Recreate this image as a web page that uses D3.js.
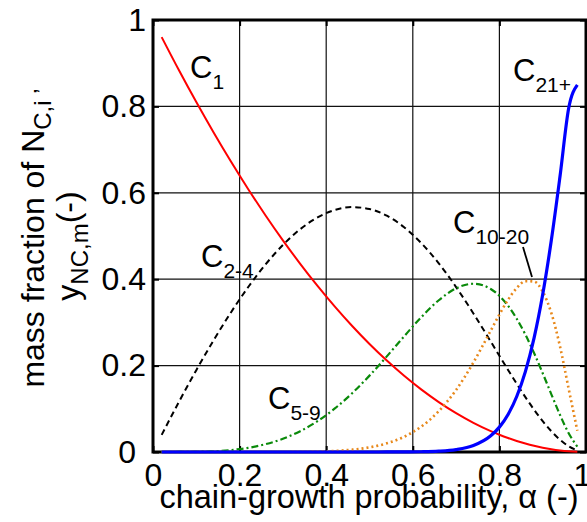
<!DOCTYPE html>
<html>
<head>
<meta charset="utf-8">
<script src="https://cdn.jsdelivr.net/npm/d3@7"></script>
<style>
  html, body { margin: 0; padding: 0; background: #fff; }
  svg { display: block; font-family: "Liberation Sans", Arial, sans-serif; }
</style>
</head>
<body>
<svg id="chart" width="587" height="522"></svg>
<script>
// chain-growth probability (x)
const alpha = [0.02,0.06,0.10,0.14,0.18,0.22,0.26,0.30,0.34,0.38,0.42,0.46,0.50,0.54,0.58,0.62,0.66,0.70,0.74,0.78,0.80,0.82,0.84,0.86,0.88,0.90,0.92,0.94,0.96,0.98];
// mass fractions
const c1    = [0.9604,0.8836,0.8100,0.7396,0.6724,0.6084,0.5476,0.4900,0.4356,0.3844,0.3364,0.2916,0.2500,0.2116,0.1764,0.1444,0.1156,0.0900,0.0676,0.0484,0.0400,0.0324,0.0256,0.0196,0.0144,0.0100,0.0064,0.0036,0.0016,0.0004];
const c2_4  = [0.0396,0.1163,0.1895,0.2587,0.3231,0.3819,0.4343,0.4792,0.5158,0.5430,0.5603,0.5669,0.5625,0.5469,0.5203,0.4832,0.4366,0.3818,0.3207,0.2557,0.2227,0.1900,0.1579,0.1271,0.0981,0.0715,0.0480,0.0283,0.0132,0.0034];
const c5_9  = [0.0000,0.0001,0.0005,0.0017,0.0045,0.0096,0.0181,0.0306,0.0482,0.0715,0.1008,0.1361,0.1768,0.2214,0.2678,0.3125,0.3513,0.3789,0.3895,0.3774,0.3615,0.3385,0.3085,0.2718,0.2293,0.1824,0.1335,0.0857,0.0434,0.0123];
const c10_20= [0.0000,0.0000,0.0000,0.0000,0.0000,0.0000,0.0000,0.0001,0.0004,0.0011,0.0025,0.0054,0.0107,0.0200,0.0353,0.0592,0.0946,0.1437,0.2072,0.2810,0.3182,0.3523,0.3796,0.3955,0.3946,0.3714,0.3215,0.2442,0.1462,0.0492];
const c21p  = [0.0000,0.0000,0.0000,0.0000,0.0000,0.0000,0.0000,0.0000,0.0000,0.0000,0.0000,0.0000,0.0000,0.0001,0.0002,0.0006,0.0019,0.0056,0.0150,0.0375,0.0576,0.0869,0.1285,0.1861,0.2637,0.3647,0.4906,0.6382,0.7956,0.8500];
const xTicks = [0, 0.2, 0.4, 0.6, 0.8, 1];
const yTicks = [0, 0.2, 0.4, 0.6, 0.8, 1];

const svg = d3.select("#chart");
const L = 153, R = 586, T = 20, B = 452;
const x = d3.scaleLinear().domain([0, 1]).range([L, R]);
const y = d3.scaleLinear().domain([0, 1]).range([B, T]);

// grid
const grid = svg.append("g");
grid.selectAll(".gx").data(xTicks.slice(1, -1)).enter().append("line")
  .attr("x1", d => x(d)).attr("x2", d => x(d)).attr("y1", T).attr("y2", B)
  .attr("stroke", "#111").attr("stroke-width", 1.2);
grid.selectAll(".gy").data(yTicks.slice(1, -1)).enter().append("line")
  .attr("y1", d => y(d)).attr("y2", d => y(d)).attr("x1", L).attr("x2", R)
  .attr("stroke", "#111").attr("stroke-width", 1.2);

// axes with inward ticks
const fmt = d => d === 0 ? "0" : d === 1 ? "1" : d3.format(".1f")(d);
const xAxis = svg.append("g").attr("transform", `translate(0,${B})`)
  .call(d3.axisBottom(x).tickValues(xTicks).tickFormat(fmt).tickSizeInner(-6).tickSizeOuter(0).tickPadding(11));
const yAxis = svg.append("g").attr("transform", `translate(${L},0)`)
  .call(d3.axisLeft(y).tickValues(yTicks).tickFormat(fmt).tickSizeInner(-6).tickSizeOuter(0).tickPadding(7));
const yAxisR = svg.append("g").attr("transform", `translate(${R},0)`)
  .call(d3.axisRight(y).tickValues(yTicks).tickFormat("").tickSizeInner(-6).tickSizeOuter(0));
const xAxisT = svg.append("g").attr("transform", `translate(0,${T})`)
  .call(d3.axisTop(x).tickValues(xTicks).tickFormat("").tickSizeInner(-6).tickSizeOuter(0));
[xAxis, yAxis, yAxisR, xAxisT].forEach(g => {
  g.select(".domain").remove();
  g.selectAll(".tick line").attr("stroke", "#000").attr("stroke-width", 2);
  g.selectAll("text").attr("font-size", 32).attr("fill", "#000")
    .attr("font-family", "'Liberation Sans', Arial, sans-serif");
});
xAxis.selectAll("text").attr("dy", "0.71em");
xAxis.selectAll(".tick").filter(d => d === 1).select("text").attr("dx", -4);
yAxis.selectAll(".tick").filter(d => d === 0).select("text").attr("dx", -10);

// frame
svg.append("rect").attr("x", L).attr("y", T).attr("width", R - L).attr("height", B - T)
  .attr("fill", "none").attr("stroke", "#000").attr("stroke-width", 3);

// series
const series = [
  { v: c1,     color: "#ff0000", w: 2,   dash: null },
  { v: c2_4,   color: "#000000", w: 2,   dash: "6,4" },
  { v: c5_9,   color: "#0a8a0a", w: 2.2, dash: "7,3,2,3" },
  { v: c10_20, color: "#e8891c", w: 2.6, dash: "2,3" },
  { v: c21p,   color: "#0000ff", w: 3.2, dash: null }
];
const line = d3.line().x(d => x(d[0])).y(d => y(d[1])).curve(d3.curveMonotoneX);
series.forEach(s => {
  svg.append("path")
    .datum(alpha.map((a, i) => [a, s.v[i]]))
    .attr("fill", "none").attr("stroke", s.color).attr("stroke-width", s.w)
    .attr("stroke-dasharray", s.dash)
    .attr("d", line);
});

// curve labels
function label(px, py, main, sub) {
  const t = svg.append("text").attr("x", px).attr("y", py).attr("font-size", 31).attr("fill", "#000");
  t.append("tspan").text(main);
  t.append("tspan").attr("font-size", 21).attr("dy", 11).text(sub);
}
label(190, 78, "C", "1");
label(201, 267, "C", "2-4");
label(268, 409, "C", "5-9");
label(453, 233, "C", "10-20");
label(513, 81, "C", "21+");
svg.append("line").attr("x1", 523).attr("y1", 247).attr("x2", 532).attr("y2", 277)
  .attr("stroke", "#000").attr("stroke-width", 1.8);

// axis titles
svg.append("text").attr("x", 369).attr("y", 508).attr("text-anchor", "middle")
  .attr("font-size", 32.5).attr("fill", "#000").text("chain-growth probability, α (-)");

const yl1 = svg.append("text").attr("transform", "translate(44,238) rotate(-90)")
  .attr("text-anchor", "middle").attr("font-size", 32).attr("fill", "#000");
yl1.append("tspan").text("mass fraction of N");
yl1.append("tspan").attr("font-size", 24).attr("dy", 7).text("C,i ’");

const yl2 = svg.append("text").attr("transform", "translate(79,246) rotate(-90)")
  .attr("text-anchor", "middle").attr("font-size", 32).attr("fill", "#000");
yl2.append("tspan").text("y");
yl2.append("tspan").attr("font-size", 24).attr("dy", 9).text("NC,m");
yl2.append("tspan").attr("dy", -9).text("(-)");
</script>
</body>
</html>
